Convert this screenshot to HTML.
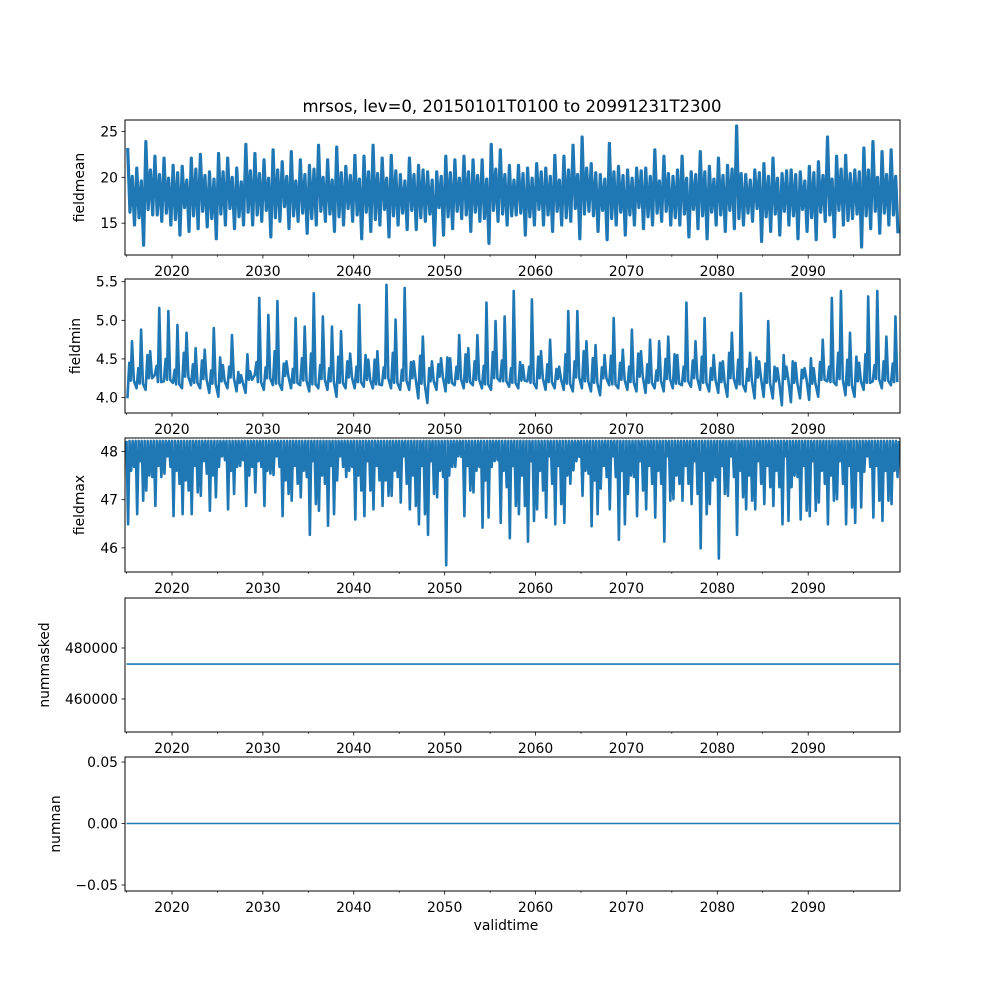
<!DOCTYPE html>
<html><head><meta charset="utf-8">
<style>
html,body{margin:0;padding:0;background:#fff;}
svg{display:block;font-family:"DejaVu Sans","Liberation Sans",sans-serif;}
</style></head>
<body>
<svg id="chart" width="1000" height="1000" viewBox="0 0 1000 1000" xmlns="http://www.w3.org/2000/svg">
<rect width="1000" height="1000" fill="#fff"/>
<text x="512" y="112" font-size="16.5" text-anchor="middle" fill="#000">mrsos, lev=0, 20150101T0100 to 20991231T2300</text>
<text x="506" y="930" font-size="13.9" text-anchor="middle" fill="#000">validtime</text>
</svg>
<script>
const firstYear = 2015;
const xTicks = [2020, 2030, 2040, 2050, 2060, 2070, 2080, 2090];
const xMinor = [2015, 2025, 2035, 2045, 2055, 2065, 2075, 2085, 2095];

const meanPeaks = [23.2,21.0,23.9,22.3,22.1,21.3,21.2,22.1,22.5,20.6,22.6,22.1,21.0,23.6,22.6,21.9,23.0,21.7,22.8,21.9,21.3,23.5,21.9,23.3,21.2,22.4,22.3,23.5,22.1,22.4,20.3,22.1,21.3,20.6,20.6,22.3,21.9,22.3,21.9,21.9,23.6,23.0,21.3,
21.3,21.0,21.5,21.0,22.4,22.3,23.5,24.4,21.5,20.3,23.7,21.2,20.8,21.0,21.0,23.0,22.3,20.1,22.3,20.6,22.8,21.2,22.1,21.3,25.6,20.3,20.8,21.5,22.1,20.4,20.8,20.6,21.2,21.7,24.4,22.3,22.4,20.8,23.2,23.9,22.8,23.0];
const meanTroughs = [14.8,12.6,15.9,15.2,14.8,13.7,14.1,14.4,14.6,13.3,14.8,14.4,14.8,14.8,15.2,13.5,15.2,14.4,15.2,13.9,14.8,15.2,14.1,14.8,15.2,13.3,14.1,14.8,13.5,14.8,14.3,14.3,15.2,12.6,13.7,14.4,15.5,14.1,15.2,12.8,15.2,14.8,15.9,
13.7,14.8,14.8,14.1,14.8,15.2,13.3,16.3,14.1,13.2,14.8,13.7,14.8,14.4,14.8,15.2,14.8,14.8,13.5,14.4,13.3,14.8,14.1,14.4,14.8,15.2,13.0,14.1,13.7,14.8,13.3,14.1,13.2,15.2,13.5,14.8,15.5,12.4,14.4,13.9,14.8,13.9];
const meanSecPeaks = [20.1,19.6,20.8,20.3,19.9,20.5,19.7,20.9,20.2,19.8,20.6,20.0,19.5,20.7,20.4,19.9,20.8,20.1,19.6,20.3,20.9,20.0,19.7,20.5,20.2,19.8,20.6,20.4,19.9,20.7,19.6,20.3,20.8,19.7,20.1,20.5,19.9,20.6,20.2,19.8,20.9,20.3,19.7,
20.4,19.9,20.6,20.1,19.7,20.8,20.3,21.0,20.5,19.8,20.6,20.2,19.9,20.7,20.1,19.6,20.4,20.8,19.9,20.3,20.6,19.8,20.2,20.9,20.4,19.7,20.5,20.1,19.9,20.7,20.3,19.6,20.5,20.2,19.8,20.9,20.4,20.6,20.8,20.0,20.3,20.1];
const meanSecTroughs = [16.2,15.6,16.5,15.9,16.1,15.4,16.7,15.8,16.3,15.5,16.0,16.6,15.7,16.2,15.9,16.4,15.6,16.8,15.8,16.1,15.5,16.3,16.0,15.7,16.6,15.9,16.2,15.4,16.5,15.8,16.1,16.4,15.6,16.0,16.7,15.7,16.3,15.9,16.2,15.5,16.4,16.0,15.8,
16.1,15.7,16.5,15.9,16.3,15.6,16.6,16.0,15.8,16.4,15.5,16.2,15.9,16.7,15.7,16.1,16.3,15.6,16.0,16.5,15.8,16.2,15.9,16.4,15.5,16.1,16.6,15.7,16.0,16.3,15.8,16.5,15.6,16.2,15.9,16.4,15.3,16.0,15.8,16.3,16.1,15.9];

const minPeaks = [4.73,4.88,4.60,5.16,5.12,4.94,4.84,4.64,4.62,4.90,4.42,4.81,4.29,4.34,5.29,5.07,5.25,4.47,5.03,4.92,5.35,5.05,4.92,4.86,4.57,5.20,4.49,4.60,5.46,5.01,5.42,4.47,4.79,4.47,4.51,4.51,4.81,4.64,4.81,5.23,4.99,5.05,5.38,
4.42,5.27,4.60,4.75,4.40,5.12,5.12,4.73,4.68,4.55,5.03,4.62,4.88,4.60,4.75,4.73,4.79,4.55,5.23,4.73,5.03,4.55,4.47,4.84,5.35,4.58,4.47,4.99,4.38,4.40,4.45,4.38,4.38,4.75,5.29,5.38,4.84,4.45,5.31,5.38,4.79,5.05];
const minTroughs = [3.99,4.12,4.10,4.29,4.21,4.19,4.12,4.16,4.12,4.06,4.01,4.12,4.08,4.06,4.29,4.10,4.16,4.10,4.12,4.16,4.08,4.12,4.10,4.01,4.12,4.12,4.14,4.12,4.16,4.12,4.10,4.10,3.99,3.93,4.10,4.08,4.16,4.12,4.16,4.12,4.10,4.21,4.14,
4.12,4.21,4.12,4.10,4.12,4.10,4.08,4.12,4.08,4.03,4.16,4.12,4.10,4.08,4.06,4.12,4.08,4.12,4.16,4.14,4.10,4.08,4.06,4.01,4.12,4.08,3.99,4.01,3.99,3.90,3.94,3.99,3.97,4.01,4.21,4.16,4.03,4.01,4.10,4.21,4.12,4.16];
const minSecPeaks = [4.45,4.38,4.55,4.41,4.50,4.36,4.58,4.43,4.48,4.35,4.52,4.40,4.33,4.56,4.46,4.39,4.60,4.44,4.37,4.51,4.57,4.42,4.38,4.53,4.47,4.40,4.55,4.49,4.39,4.58,4.36,4.46,4.54,4.38,4.43,4.52,4.40,4.56,4.47,4.41,4.59,4.48,4.38,
4.46,4.40,4.53,4.43,4.37,4.56,4.47,4.60,4.51,4.39,4.54,4.45,4.40,4.57,4.43,4.35,4.50,4.56,4.40,4.48,4.53,4.38,4.45,4.58,4.49,4.37,4.52,4.44,4.40,4.55,4.47,4.36,4.51,4.46,4.40,4.58,4.49,4.53,4.56,4.42,4.47,4.44];
const minSecTroughs = [4.22,4.18,4.25,4.20,4.23,4.17,4.27,4.19,4.24,4.18,4.21,4.26,4.19,4.23,4.20,4.25,4.18,4.28,4.19,4.22,4.17,4.24,4.21,4.19,4.26,4.20,4.23,4.17,4.25,4.19,4.22,4.25,4.18,4.21,4.27,4.19,4.24,4.20,4.23,4.17,4.25,4.21,4.19,
4.22,4.19,4.25,4.20,4.24,4.18,4.26,4.21,4.19,4.25,4.17,4.23,4.20,4.27,4.19,4.22,4.24,4.18,4.21,4.25,4.19,4.23,4.20,4.25,4.17,4.22,4.26,4.19,4.21,4.24,4.19,4.25,4.18,4.23,4.20,4.24,4.16,4.21,4.19,4.24,4.22,4.20];

const maxTop = 48.22;
const maxDip1 = [46.49,46.70,47.19,46.87,47.54,46.66,46.70,46.70,47.08,46.77,47.68,46.80,47.68,46.87,47.15,46.87,47.51,46.66,46.98,47.05,46.27,46.77,46.46,47.40,47.47,46.59,46.66,46.80,46.87,47.08,46.94,46.80,46.49,46.27,47.05,45.64,47.68,46.66,47.15,46.42,47.68,46.52,46.20,
46.70,46.13,46.80,46.63,46.49,46.52,47.61,47.08,46.45,47.23,46.80,46.17,47.12,46.66,46.80,46.63,46.13,47.01,46.98,46.91,45.99,46.91,45.78,47.08,46.27,46.80,46.80,46.91,46.87,46.49,47.26,46.59,46.66,46.94,46.49,47.01,46.49,46.52,47.58,46.63,46.56,46.91];
const maxDip2 = [47.68,46.98,47.47,47.47,47.68,47.33,47.19,47.15,47.54,47.05,47.82,47.12,47.82,47.68,47.68,47.54,47.68,47.12,47.33,47.47,46.91,47.33,46.70,47.68,47.68,47.19,47.19,47.40,47.08,47.47,47.33,46.87,46.70,47.12,47.47,47.68,47.89,47.19,47.68,46.63,47.82,47.26,46.87,
46.87,46.56,47.19,47.33,46.91,47.33,47.89,47.54,46.70,47.47,47.47,46.49,47.47,47.19,47.33,47.33,46.98,47.33,47.33,47.12,46.70,47.47,47.12,47.47,47.05,46.98,47.33,47.26,47.26,46.56,47.47,46.77,46.77,47.33,46.98,47.33,46.84,46.84,47.68,46.98,46.98,47.47];
const maxDip3 = [47.6,47.8,47.5,47.7,47.9,47.6,47.4,47.7,47.8,47.5,47.9,47.6,47.7,47.5,47.8,47.6,47.9,47.4,47.7,47.6,47.8,47.5,47.7,47.9,47.6,47.5,47.8,47.7,47.4,47.6,47.9,47.5,47.7,47.8,47.6,47.5,47.9,47.7,47.6,47.4,47.8,47.6,47.7,
47.5,47.8,47.6,47.9,47.7,47.5,47.8,47.6,47.4,47.7,47.9,47.6,47.5,47.8,47.7,47.6,47.9,47.5,47.7,47.8,47.6,47.4,47.7,47.9,47.6,47.5,47.8,47.7,47.6,47.9,47.5,47.7,47.8,47.6,47.5,47.8,47.7,47.6,47.9,47.7,47.6];

const numMaskedValue = 473700;
const numNanValue = 0;

const panels = [
  {name:'fieldmean', top:120, bottom:255, ymin:11.53, ymax:26.25, ticks:[15,20,25], labels:['15','20','25'], titleX:84},
  {name:'fieldmin', top:279, bottom:413, ymin:3.80, ymax:5.535, ticks:[4.0,4.5,5.0,5.5], labels:['4.0','4.5','5.0','5.5'], titleX:80},
  {name:'fieldmax', top:438, bottom:572, ymin:45.5, ymax:48.28, ticks:[46,47,48], labels:['46','47','48'], titleX:84},
  {name:'nummasked', top:598, bottom:732, ymin:447060, ymax:499600, ticks:[460000,480000], labels:['460000','480000'], titleX:49},
  {name:'numnan', top:757, bottom:891, ymin:-0.0549, ymax:0.0541, ticks:[-0.05,0,0.05], labels:['\u22120.05','0.00','0.05'], titleX:60}
];

const NS = 'http://www.w3.org/2000/svg';
const svg = document.getElementById('chart');
const X0 = 125, X1 = 900, T0 = 2014.83, T1 = 2100.1;
function xs(t){ return X0 + (t - T0) / (T1 - T0) * (X1 - X0); }
function mk(tag, attrs, parent){ const e = document.createElementNS(NS, tag); for (const k in attrs) e.setAttribute(k, attrs[k]); (parent||svg).appendChild(e); return e; }
function at(arr, i){ return arr[Math.min(i, arr.length - 1)]; }

panels.forEach(p => {
  const ys = v => p.bottom - (v - p.ymin) / (p.ymax - p.ymin) * (p.bottom - p.top);
  p.ys = ys;
  const g = mk('g', {});
  
  
  p.g = g;
  p.ticks.forEach((v, i) => {
    const y = ys(v);
    const tk = mk('line', {x1:X0-3.5, x2:X0, y1:y, y2:y, stroke:'#000', 'stroke-width':0.8}, g);
    
    
    const tl = mk('text', {x:X0-7, y:y+5, 'font-size':13.9, 'text-anchor':'end', fill:'#000'}, g);
    tl.textContent = p.labels[i];
    
    
  });
  xTicks.forEach(t => {
    const x = xs(t);
    const tk = mk('line', {x1:x, x2:x, y1:p.bottom, y2:p.bottom+3.5, stroke:'#000', 'stroke-width':0.8}, g);
    
    
    const tl = mk('text', {x:x, y:p.bottom+21, 'font-size':13.9, 'text-anchor':'middle', fill:'#000'}, g);
    tl.textContent = String(t);
    
    
  });
  xMinor.forEach(t => {
    const x = xs(t);
    const tk = mk('line', {x1:x, x2:x, y1:p.bottom, y2:p.bottom+2, stroke:'#000', 'stroke-width':0.6}, g);
    
    
  });
  const cy = (p.top + p.bottom) / 2;
  const yt = mk('text', {x:p.titleX, y:cy, 'font-size':13.9, 'text-anchor':'middle', fill:'#000', transform:'rotate(-90 ' + p.titleX + ' ' + cy + ')'}, g);
  yt.textContent = p.name;
  
  
});

function drawLine(p, pts, w, nm){
  const cp = mk('clipPath', {id:'clip'+p.name}, p.g);
  mk('rect', {x:X0, y:p.top, width:X1-X0, height:p.bottom-p.top}, cp);
  const pl = mk('polyline', {points: pts.map(q => q[0].toFixed(2)+','+q[1].toFixed(2)).join(' '), fill:'none', stroke:'#1f77b4', 'stroke-width':w, 'stroke-linejoin':'round', 'clip-path':'url(#clip'+p.name+')'}, p.g);
  
  
}

// fieldmean
{
  const p = panels[0], pts = [];
  meanPeaks.forEach((v, i) => {
    pts.push([xs(firstYear + i + 0.125), p.ys(v)]);
    pts.push([xs(firstYear + i + 0.375), p.ys(at(meanSecTroughs, i))]);
    pts.push([xs(firstYear + i + 0.625), p.ys(at(meanSecPeaks, i))]);
    pts.push([xs(firstYear + i + 0.875), p.ys(meanTroughs[i])]);
  });
  drawLine(p, pts, 3.2, 'fieldmean-line');
}
// fieldmin
{
  const p = panels[1], pts = [];
  minPeaks.forEach((v, i) => {
    pts.push([xs(firstYear + i + 0.1), p.ys(minTroughs[i])]);
    pts.push([xs(firstYear + i + 0.3), p.ys(at(minSecPeaks, i))]);
    pts.push([xs(firstYear + i + 0.45), p.ys(at(minSecTroughs, i))]);
    pts.push([xs(firstYear + i + 0.6), p.ys(v)]);
    pts.push([xs(firstYear + i + 0.8), p.ys(at(minSecTroughs, i))]);
  });
  drawLine(p, pts, 2.6, 'fieldmin-line');
}
// fieldmax
{
  const p = panels[2], pts = [];
  maxDip1.forEach((v, i) => {
    pts.push([xs(firstYear + i), p.ys(maxTop)]);
    pts.push([xs(firstYear + i + 0.17), p.ys(v)]);
    pts.push([xs(firstYear + i + 0.33), p.ys(maxTop)]);
    pts.push([xs(firstYear + i + 0.5), p.ys(at(maxDip3, i))]);
    pts.push([xs(firstYear + i + 0.67), p.ys(maxTop)]);
    pts.push([xs(firstYear + i + 0.83), p.ys(at(maxDip2, i))]);
  });
  pts.push([xs(firstYear + maxDip1.length), p.ys(maxTop)]);
  drawLine(p, pts, 2.6, 'fieldmax-line');
}
// nummasked
{
  const p = panels[3];
  drawLine(p, [[xs(firstYear), p.ys(numMaskedValue)], [xs(firstYear + 85), p.ys(numMaskedValue)]], 1.6, 'nummasked-line');
}
// numnan
{
  const p = panels[4];
  drawLine(p, [[xs(firstYear), p.ys(numNanValue)], [xs(firstYear + 85), p.ys(numNanValue)]], 1.6, 'numnan-line');
}
// frames on top
panels.forEach(p => {
  const fr = mk('rect', {x:X0, y:p.top, width:X1-X0, height:p.bottom-p.top, fill:'none', stroke:'#000', 'stroke-width':1}, p.g);
  
  
});
</script>
</body></html>
